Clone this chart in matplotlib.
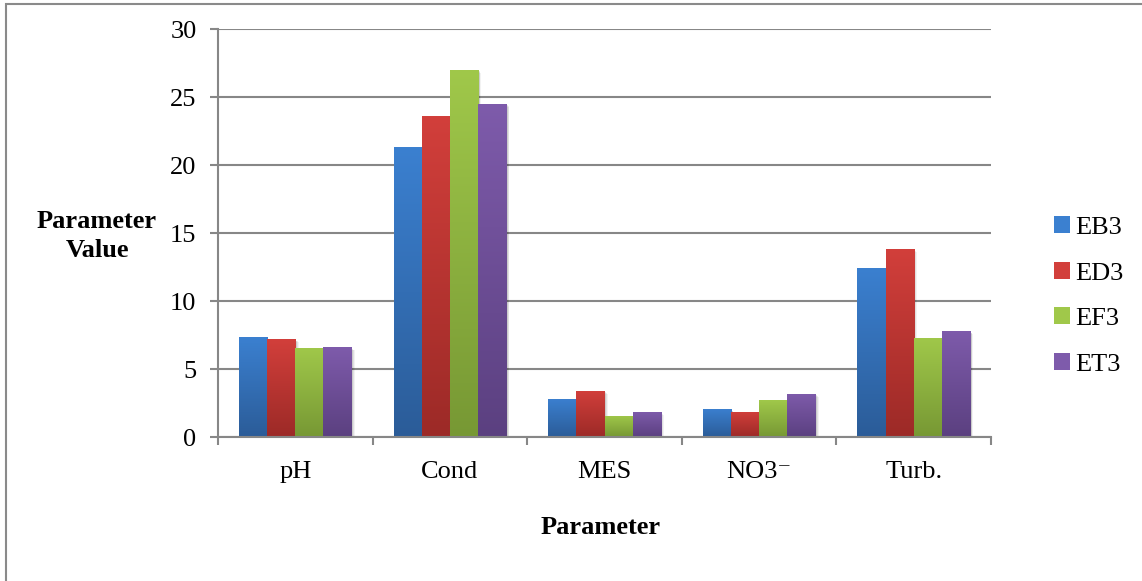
import numpy as np
import matplotlib
matplotlib.use("Agg")
import matplotlib.pyplot as plt
from matplotlib.patches import Rectangle
from matplotlib.colors import LinearSegmentedColormap
import matplotlib.transforms as mtransforms

plt.rcParams['font.family'] = ['Liberation Serif', 'DejaVu Serif']

categories = ["pH", "Cond", "MES", "NO3\u207b", "Turb."]
series_names = ["EB3", "ED3", "EF3", "ET3"]
EB3 = [7.35, 21.3, 2.8, 2.06, 12.45]
ED3 = [7.2, 23.6, 3.4, 1.85, 13.85]
EF3 = [6.55, 27.0, 1.55, 2.72, 7.3]
ET3 = [6.6, 24.5, 1.85, 3.17, 7.8]
series_values = [EB3, ED3, EF3, ET3]
yticks = [0, 5, 10, 15, 20, 25, 30]

top_colors = ["#3b80d0", "#d23f3b", "#a0c84a", "#7e5bab"]
bot_colors = ["#2b5c98", "#9c2a27", "#779834", "#5b4080"]

W, H = 1142, 581
fig = plt.figure(figsize=(W / 100, H / 100), dpi=100)
ax = fig.add_axes([218 / W, 1 - 437 / H, (991 - 218) / W, (437 - 29) / H])

n = len(series_names)
bw = 0.182
x = np.arange(len(categories))
grid_c = "#878787"

for i, (name, vals) in enumerate(zip(series_names, series_values)):
    offs = x + (i - (n - 1) / 2) * bw
    bars = ax.bar(offs, vals, width=bw, color=top_colors[i], label=name, zorder=3,
                  linewidth=0)
    cmap = LinearSegmentedColormap.from_list(name, [bot_colors[i], top_colors[i]])
    grad = np.linspace(0, 1, 256).reshape(-1, 1)
    for b in bars:
        x0, w, h = b.get_x(), b.get_width(), b.get_height()
        # soft shadow
        for k, a in zip([4, 3, 2], [0.05, 0.07, 0.09]):
            tr = ax.transData + mtransforms.ScaledTranslation(k / 100 * 0.8, -k / 100 * 0.8,
                                                              fig.dpi_scale_trans)
            ax.add_patch(Rectangle((x0, 0), w, h, facecolor="black", alpha=a,
                                   linewidth=0, transform=tr, zorder=2.5))
        im = ax.imshow(grad, extent=[x0, x0 + w, 0, h], origin="lower", cmap=cmap,
                       aspect="auto", zorder=4, interpolation="bilinear")
        im.set_clip_path(b)

ax.set_xlim(-0.5, len(categories) - 0.5)
ax.set_ylim(0, 30)
ax.set_yticks(yticks)
ax.set_xticks(x)
ax.set_xticklabels(categories)
ax.set_xticks(np.arange(len(categories) + 1) - 0.5, minor=True)
ax.tick_params(axis="x", which="major", length=0, pad=17, labelsize=19)
ax.tick_params(axis="x", which="minor", length=5.5, width=1.5, color=grid_c, direction="out")
ax.tick_params(axis="y", length=5.5, width=1.5, color=grid_c, direction="out", pad=10,
               labelsize=19)
ax.yaxis.grid(True, color=grid_c, linewidth=1.5, zorder=0)
ax.set_axisbelow(True)
for s in ["top", "right"]:
    ax.spines[s].set_visible(False)
for s in ["left", "bottom"]:
    ax.spines[s].set_color(grid_c)
    ax.spines[s].set_linewidth(1.5)
    ax.spines[s].set_zorder(5)

fig.text(97 / W, 1 - 236 / H, "Parameter\nValue", ha="center", va="center",
         fontsize=19, fontweight="bold", linespacing=1.38)
fig.text(601 / W, 1 - 527 / H, "Parameter", ha="center", va="center",
         fontsize=19, fontweight="bold")

handles = [Rectangle((0, 0), 1, 1, facecolor=top_colors[i], edgecolor="none")
           for i in range(n)]
fig.legend(handles, series_names, loc="center left",
           bbox_to_anchor=(1041 / W, 1 - 296 / H), frameon=False, fontsize=19,
           handlelength=0.6, handleheight=0.6, handletextpad=0.2, labelspacing=0.87,
           borderpad=0)

fig.add_artist(Rectangle((6 / W, -0.1), 1.2, 1 - 4 / H + 0.1, transform=fig.transFigure,
                         fill=False, edgecolor="#8a8a8a", linewidth=1.5))

fig.savefig("out.png", dpi=100)
